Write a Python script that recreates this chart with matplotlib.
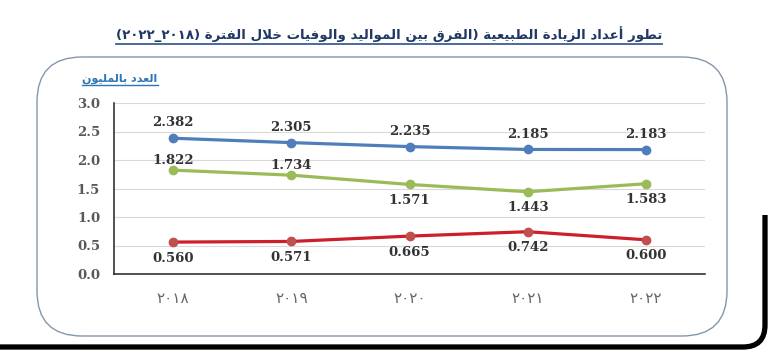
"""
Natural increase (births minus deaths) 2018-2022, three series in millions.
"""

import re
import matplotlib
matplotlib.use('Agg')
import matplotlib.pyplot as plt
from matplotlib.patches import FancyBboxPatch, Rectangle
from matplotlib.lines import Line2D
from matplotlib.transforms import IdentityTransform

# ---- data ----
years = ['٢٠١٨', '٢٠١٩', '٢٠٢٠', '٢٠٢١', '٢٠٢٢']
births = [2.382, 2.305, 2.235, 2.185, 2.183]
natural_increase = [1.822, 1.734, 1.571, 1.443, 1.583]
deaths = [0.560, 0.571, 0.665, 0.742, 0.600]
y_ticks = [0.0, 0.5, 1.0, 1.5, 2.0, 2.5, 3.0]

title_text = 'تطور أعداد الزيادة الطبيعية (الفرق بين المواليد والوفيات خلال الفترة (٢٠١٨_٢٠٢٢)'
unit_text = 'العدد بالمليون'

# ---- minimal arabic shaping (matplotlib does no shaping / bidi) ----
FORMS = {
    'ا': ('\uFE8D', '\uFE8E', None, None),
    'أ': ('\uFE83', '\uFE84', None, None),
    'ب': ('\uFE8F', '\uFE90', '\uFE91', '\uFE92'),
    'ة': ('\uFE93', '\uFE94', None, None),
    'ت': ('\uFE95', '\uFE96', '\uFE97', '\uFE98'),
    'خ': ('\uFEA5', '\uFEA6', '\uFEA7', '\uFEA8'),
    'د': ('\uFEA9', '\uFEAA', None, None),
    'ر': ('\uFEAD', '\uFEAE', None, None),
    'ز': ('\uFEAF', '\uFEB0', None, None),
    'ط': ('\uFEC1', '\uFEC2', '\uFEC3', '\uFEC4'),
    'ع': ('\uFEC9', '\uFECA', '\uFECB', '\uFECC'),
    'ف': ('\uFED1', '\uFED2', '\uFED3', '\uFED4'),
    'ق': ('\uFED5', '\uFED6', '\uFED7', '\uFED8'),
    'ل': ('\uFEDD', '\uFEDE', '\uFEDF', '\uFEE0'),
    'م': ('\uFEE1', '\uFEE2', '\uFEE3', '\uFEE4'),
    'ن': ('\uFEE5', '\uFEE6', '\uFEE7', '\uFEE8'),
    'و': ('\uFEED', '\uFEEE', None, None),
    'ي': ('\uFEF1', '\uFEF2', '\uFEF3', '\uFEF4'),
}
LAM_ALEF = {'ا': ('\uFEFB', '\uFEFC'), 'أ': ('\uFEF7', '\uFEF8')}


def joins_next(ch):
    return ch in FORMS and FORMS[ch][2] is not None


def shape(text):
    res = []
    i, n = 0, len(text)
    while i < n:
        ch = text[i]
        if ch not in FORMS:
            res.append(ch)
            i += 1
            continue
        prev = text[i - 1] if i > 0 else ''
        cprev = joins_next(prev)
        if ch == 'ل' and i + 1 < n and text[i + 1] in LAM_ALEF:
            iso, fin = LAM_ALEF[text[i + 1]]
            res.append(fin if cprev else iso)
            i += 2
            continue
        nxt = text[i + 1] if i + 1 < n else ''
        cnext = joins_next(ch) and nxt in FORMS
        iso, fin, ini, med = FORMS[ch]
        if cprev and cnext:
            res.append(med)
        elif cprev:
            res.append(fin)
        elif cnext:
            res.append(ini)
        else:
            res.append(iso)
        i += 1
    return ''.join(res)


def rtl(text):
    runs = re.findall(r'[0-9\u0660-\u0669]+|.', shape(text))
    mirror = {'(': ')', ')': '('}
    return ''.join(mirror.get(r, r) for r in reversed(runs))


# ---- figure ----
W, H = 768, 358
fig = plt.figure(figsize=(W / 100, H / 100), dpi=100, facecolor='white')

# black shadow frame (only its lower part shows) and rounded panel
shadow = FancyBboxPatch((-60, H - 347), 825, 420, boxstyle='round,pad=0,rounding_size=22',
                        transform=IdentityTransform(), facecolor='none',
                        edgecolor='black', linewidth=3.8, zorder=0)
fig.add_artist(shadow)
shadow.set_clip_path(Rectangle((0, 0), W, H - 215, transform=IdentityTransform()))
panel = FancyBboxPatch((37, H - 336), 690, 279, boxstyle='round,pad=0,rounding_size=45',
                       transform=IdentityTransform(), facecolor='white',
                       edgecolor='#8596ab', linewidth=1.0, zorder=1)
fig.add_artist(panel)

ax = fig.add_axes([114 / W, 1 - 274 / H, 591 / W, 171 / H], zorder=2)
ax.set_facecolor('none')

x = list(range(len(years)))
series = [
    (births, '#4f7ebb', '#4f7ebb', [1, 1, 1, 1, 1]),
    (natural_increase, '#9bbb59', '#9bbb59', [1, 1, -1, -1, -1]),
    (deaths, '#cc1f2a', '#c0504d', [-1, -1, -1, -1, -1]),
]
for vals, lc, mc, sides in series:
    ax.plot(x, vals, color=lc, linewidth=2.3, marker='o', markersize=6,
            markerfacecolor=mc, markeredgecolor=mc, solid_capstyle='round', zorder=3)
    for xi, v, s in zip(x, vals, sides):
        off = 11 if s > 0 else -11.5
        if vals is natural_increase and s > 0:
            off = 7
        ax.annotate(f'{v:.3f}', (xi, v), xytext=(0, off), textcoords='offset points',
                    ha='center', va='center', fontsize=9.5, fontweight='bold',
                    family='DejaVu Serif', color='#333333', zorder=4)

ax.set_xlim(-0.5, len(years) - 0.5)
ax.set_ylim(0, 3.0)
ax.set_yticks(y_ticks)
ax.set_yticklabels([f'{t:.1f}' for t in y_ticks], fontsize=9.5, fontweight='bold',
                   family='DejaVu Serif', color='#595959')
ax.set_xticks(x)
ax.set_xticklabels(years, fontsize=11, color='#666666', family='DejaVu Sans')
ax.tick_params(axis='both', length=0)
ax.tick_params(axis='y', pad=10)
ax.tick_params(axis='x', pad=12)
ax.grid(axis='y', color='#d9d9d9', linewidth=0.8)
ax.set_axisbelow(True)
for s in ['top', 'right']:
    ax.spines[s].set_visible(False)
for s in ['left', 'bottom']:
    ax.spines[s].set_color('#222222')
    ax.spines[s].set_linewidth(1.1)

# title and unit label, underlined
t = fig.text(389 / W, 1 - 34 / H, rtl(title_text), ha='center', va='center',
             fontsize=9.6, fontweight='bold', color='#1f3864', family='DejaVu Sans', zorder=5)
u = fig.text(120 / W, 1 - 79 / H, rtl(unit_text), ha='center', va='center',
             fontsize=8, fontweight='bold', color='#2e75b6', family='DejaVu Sans', zorder=5)

fig.canvas.draw()
r = fig.canvas.get_renderer()
for txt, col, gap, lw in [(t, '#3b5f93', 2, 1.3), (u, '#2e75b6', 1, 1.0)]:
    bb = txt.get_window_extent(r)
    fig.add_artist(Line2D([bb.x0, bb.x1], [bb.y0 - gap, bb.y0 - gap], color=col,
                          linewidth=lw, transform=IdentityTransform(), zorder=5))

fig.savefig('out.png', dpi=100, facecolor='white')
